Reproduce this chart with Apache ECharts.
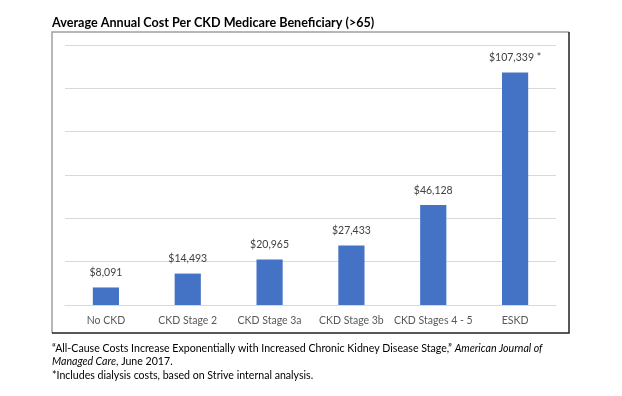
<!DOCTYPE html>
<html>
<head>
<meta charset="utf-8">
<script src="https://cdn.jsdelivr.net/npm/echarts@6/dist/echarts.min.js"></script>
<style>
  html, body { margin: 0; padding: 0; background: #fff; }
  #chart { width: 622px; height: 396px; }
</style>
</head>
<body>
<div id="chart"></div>
<script>
// data
var categories = ['No CKD', 'CKD Stage 2', 'CKD Stage 3a', 'CKD Stage 3b', 'CKD Stages 4 - 5', 'ESKD'];
var costs = [8091, 14493, 20965, 27433, 46128, 107339];
var labelNotes = ['', '', '', '', '', ' *'];
var yTicks = [0, 20000, 40000, 60000, 80000, 100000, 120000];

var font = 'Lato, "Open Sans", sans-serif';

var myChart = echarts.init(document.getElementById('chart'));

// frame around the plot: light top/left edges, dark right/bottom edges
var frame = { x1: 52, y1: 32, x2: 569, y2: 333 };

var option = {
    animation: false,
    backgroundColor: '#fff',
    grid: { left: 65, right: 66, top: 45, bottom: 91 },
    xAxis: {
        type: 'category',
        data: categories,
        axisTick: { show: false },
        axisLine: { lineStyle: { color: '#d9d9d9' } },
        axisLabel: { interval: 0, color: '#595959', fontSize: 10.5, fontFamily: font, margin: 10 }
    },
    yAxis: {
        type: 'value',
        min: yTicks[0],
        max: yTicks[yTicks.length - 1],
        interval: yTicks[1] - yTicks[0],
        axisLabel: { show: false },
        axisLine: { show: false },
        axisTick: { show: false },
        splitLine: { lineStyle: { color: '#d9d9d9', width: 1 } }
    },
    series: [{
        type: 'bar',
        data: costs,
        barWidth: '32%',
        itemStyle: { color: '#4472c4' },
        label: {
            show: true,
            position: 'top',
            distance: 9,
            color: '#404040',
            fontSize: 10.5,
            fontFamily: font,
            formatter: function (p) {
                return '$' + p.value.toLocaleString('en-US') + labelNotes[p.dataIndex];
            }
        }
    }],
    graphic: [
        {
            type: 'text', left: 52, top: 16,
            style: { text: 'Average Annual Cost Per CKD Medicare Beneficiary (>65)', font: 'bold 12.6px ' + font, fill: '#000' }
        },
        {
            type: 'polyline', shape: { points: [[frame.x1, frame.y2], [frame.x1, frame.y1], [frame.x2, frame.y1]] },
            style: { fill: null, stroke: '#a0a0a0', lineWidth: 1.5 }
        },
        {
            type: 'polyline', shape: { points: [[frame.x2, frame.y1], [frame.x2, frame.y2], [frame.x1, frame.y2]] },
            style: { fill: null, stroke: '#222', lineWidth: 1.5 }
        },
        {
            type: 'text', left: 52, top: 343,
            style: {
                text: '{n|\u201cAll-Cause Costs Increase Exponentially with Increased Chronic Kidney Disease Stage,\u201d }{i|American Journal of}\n{i|Managed Care}{n|, June 2017.}\n{n|*Includes dialysis costs, based on Strive internal analysis.}',
                rich: {
                    n: { fontSize: 10.6, fontFamily: font, fill: '#000', lineHeight: 13.5 },
                    i: { fontSize: 10.6, fontFamily: font, fontStyle: 'italic', fill: '#000', lineHeight: 13.5 }
                }
            }
        }
    ]
};

myChart.setOption(option, true);
</script>
</body>
</html>
